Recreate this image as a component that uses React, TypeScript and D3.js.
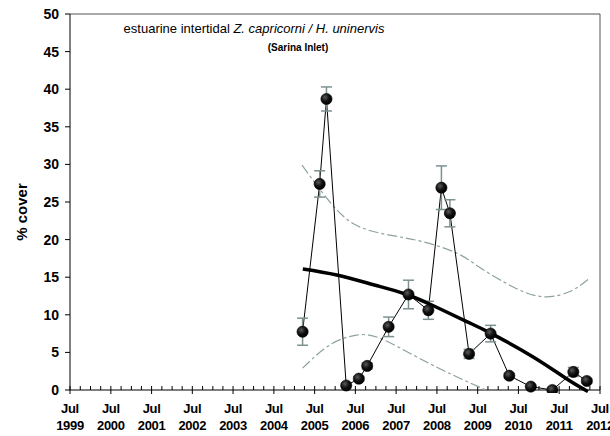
import React from "react";
import * as d3 from "d3";

const sampleDates = ["2005-03-15","2005-08-15","2005-10-15","2006-04-10","2006-08-01","2006-10-15","2007-04-25","2007-10-20","2008-04-15","2008-08-10","2008-10-25","2009-04-15","2009-10-25","2010-04-10","2010-10-20","2011-05-01","2011-11-05","2012-03-05"];
const coverValues = [7.75,27.4,38.7,0.6,1.5,3.2,8.4,12.7,10.6,26.9,23.5,4.8,7.5,1.9,0.45,0,2.4,1.2];
const coverErrors = [1.8,1.75,1.6,0.2,0.3,0.4,1.3,1.9,1.2,2.9,1.8,0.6,1.1,0.3,0.2,0,0.6,0.3];

const trendDates = ["2005-03-17","2006-01-15","2006-12-10","2007-09-15","2008-05-30","2009-03-25","2009-10-20","2010-11-10","2011-09-05","2012-03-15"];
const trendValues = [16.1,15.3,14.0,12.8,11.2,9.1,7.6,4.4,1.5,-0.2];

const upperDates = ["2005-03-10","2005-11-15","2006-07-10","2007-05-05","2008-03-01","2008-12-25","2009-07-20","2010-05-15","2011-02-10","2011-10-05","2012-03-15"];
const upperValues = [29.9,25.0,21.9,20.6,19.7,18.2,16.3,13.7,12.4,13.1,14.7];

const lowerDates = ["2005-03-15","2005-11-15","2006-07-10","2007-02-05","2007-12-01","2008-09-25","2009-09-10"];
const lowerValues = [2.9,6.0,7.3,6.9,4.65,2.4,0.0];

const yTicks = [0,5,10,15,20,25,30,35,40,45,50];
const xTickYears = [1999,2000,2001,2002,2003,2004,2005,2006,2007,2008,2009,2010,2011,2012];

const W = 610, H = 436;
const M = { left: 70, right: 600, top: 14, bottom: 390 };

export default function App() {
  const p = (s: string) => new Date(s + "T00:00:00");
  const x = d3.scaleTime().domain([new Date(1999, 6, 1), new Date(2012, 6, 1)]).range([M.left, M.right]);
  const y = d3.scaleLinear().domain([0, 50]).range([M.bottom, M.top]);

  const pts = sampleDates.map((d, i) => ({ d: p(d), v: coverValues[i], e: coverErrors[i] }));
  const lineGen = d3.line<{ d: Date; v: number }>().x(o => x(o.d)).y(o => y(o.v));
  const smooth = d3.line<{ d: Date; v: number }>().x(o => x(o.d)).y(o => y(o.v)).curve(d3.curveNatural);

  const trend = trendDates.map((d, i) => ({ d: p(d), v: trendValues[i] }));
  const upper = upperDates.map((d, i) => ({ d: p(d), v: upperValues[i] }));
  const lower = lowerDates.map((d, i) => ({ d: p(d), v: lowerValues[i] }));

  const quarters = d3.timeMonth.every(3)!.range(new Date(1999, 6, 1), new Date(2012, 6, 2));
  const band = "#8ea29f";
  const errC = "#7d9191";
  const font = "'Liberation Sans', Arial, sans-serif";

  return (
    <svg width={W} height={H} style={{ position: "absolute", left: 0, top: 0, background: "#fff" }} fontFamily={font}>
      <defs>
        <radialGradient id="ball" cx="38%" cy="35%" r="65%">
          <stop offset="0%" stopColor="#5a5a5a" />
          <stop offset="55%" stopColor="#111" />
          <stop offset="100%" stopColor="#000" />
        </radialGradient>
        <clipPath id="plot">
          <rect x={M.left} y={M.top} width={M.right - M.left} height={M.bottom - M.top + 3} />
        </clipPath>
      </defs>

      {/* frame */}
      <line x1={M.left} x2={M.right} y1={M.top} y2={M.top} stroke="#555" strokeWidth={1} />
      <line x1={M.right} x2={M.right} y1={M.top} y2={M.bottom} stroke="#555" strokeWidth={1} />
      <line x1={M.left} x2={M.left} y1={M.top} y2={M.bottom} stroke="#000" strokeWidth={1} />
      <line x1={M.left} x2={M.right} y1={M.bottom} y2={M.bottom} stroke="#000" strokeWidth={1} />

      {/* y ticks */}
      {yTicks.map(t => (
        <g key={t}>
          <line x1={M.left - 5} x2={M.left} y1={y(t)} y2={y(t)} stroke="#000" />
          <text x={M.left - 11} y={y(t) + 5} textAnchor="end" fontSize={14} fontWeight="bold">{t}</text>
        </g>
      ))}
      <text transform={`translate(27,${(M.top + M.bottom) / 2 + 10}) rotate(-90)`} textAnchor="middle" fontSize={15} fontWeight="bold">% cover</text>

      {/* x ticks */}
      {quarters.map((q, i) => {
        const major = q.getMonth() === 6;
        return <line key={i} x1={x(q)} x2={x(q)} y1={major ? M.bottom + 4 : M.bottom} y2={M.bottom - 4} stroke="#000" />;
      })}
      {xTickYears.map(yr => (
        <g key={yr}>
          <text x={x(new Date(yr, 6, 1))} y={413} textAnchor="middle" fontSize={13} fontWeight="bold" letterSpacing={-0.3}>Jul</text>
          <text x={x(new Date(yr, 6, 1))} y={430} textAnchor="middle" fontSize={13} fontWeight="bold" letterSpacing={-0.3}>{yr}</text>
        </g>
      ))}

      {/* title */}
      <text x={254} y={33} textAnchor="middle" fontSize={13}>
        estuarine intertidal <tspan fontStyle="italic">Z. capricorni / H. uninervis</tspan>
      </text>
      <text x={298} y={51} textAnchor="middle" fontSize={10} fontWeight="bold">(Sarina Inlet)</text>

      <g clipPath="url(#plot)">
        <path d={smooth(upper)!} fill="none" stroke={band} strokeWidth={1.2} strokeDasharray="10,3,3,3" />
        <path d={smooth(lower)!} fill="none" stroke={band} strokeWidth={1.2} strokeDasharray="10,3,3,3" />
        <path d={lineGen(pts)!} fill="none" stroke="#000" strokeWidth={1} />
        {pts.map((o, i) => o.e > 0.25 ? (
          <g key={i} stroke={errC} strokeWidth={1.5}>
            <line x1={x(o.d)} x2={x(o.d)} y1={y(o.v - o.e)} y2={y(o.v + o.e)} />
            <line x1={x(o.d) - 5.5} x2={x(o.d) + 5.5} y1={y(o.v + o.e)} y2={y(o.v + o.e)} />
            <line x1={x(o.d) - 5.5} x2={x(o.d) + 5.5} y1={y(o.v - o.e)} y2={y(o.v - o.e)} />
          </g>
        ) : null)}
        <path d={smooth(trend)!} fill="none" stroke="#000" strokeWidth={3.5} />
        {pts.map((o, i) => (
          <circle key={i} cx={x(o.d)} cy={y(o.v)} r={5.6} fill="url(#ball)" stroke="#000" strokeWidth={0.6} />
        ))}
      </g>
    </svg>
  );
}
